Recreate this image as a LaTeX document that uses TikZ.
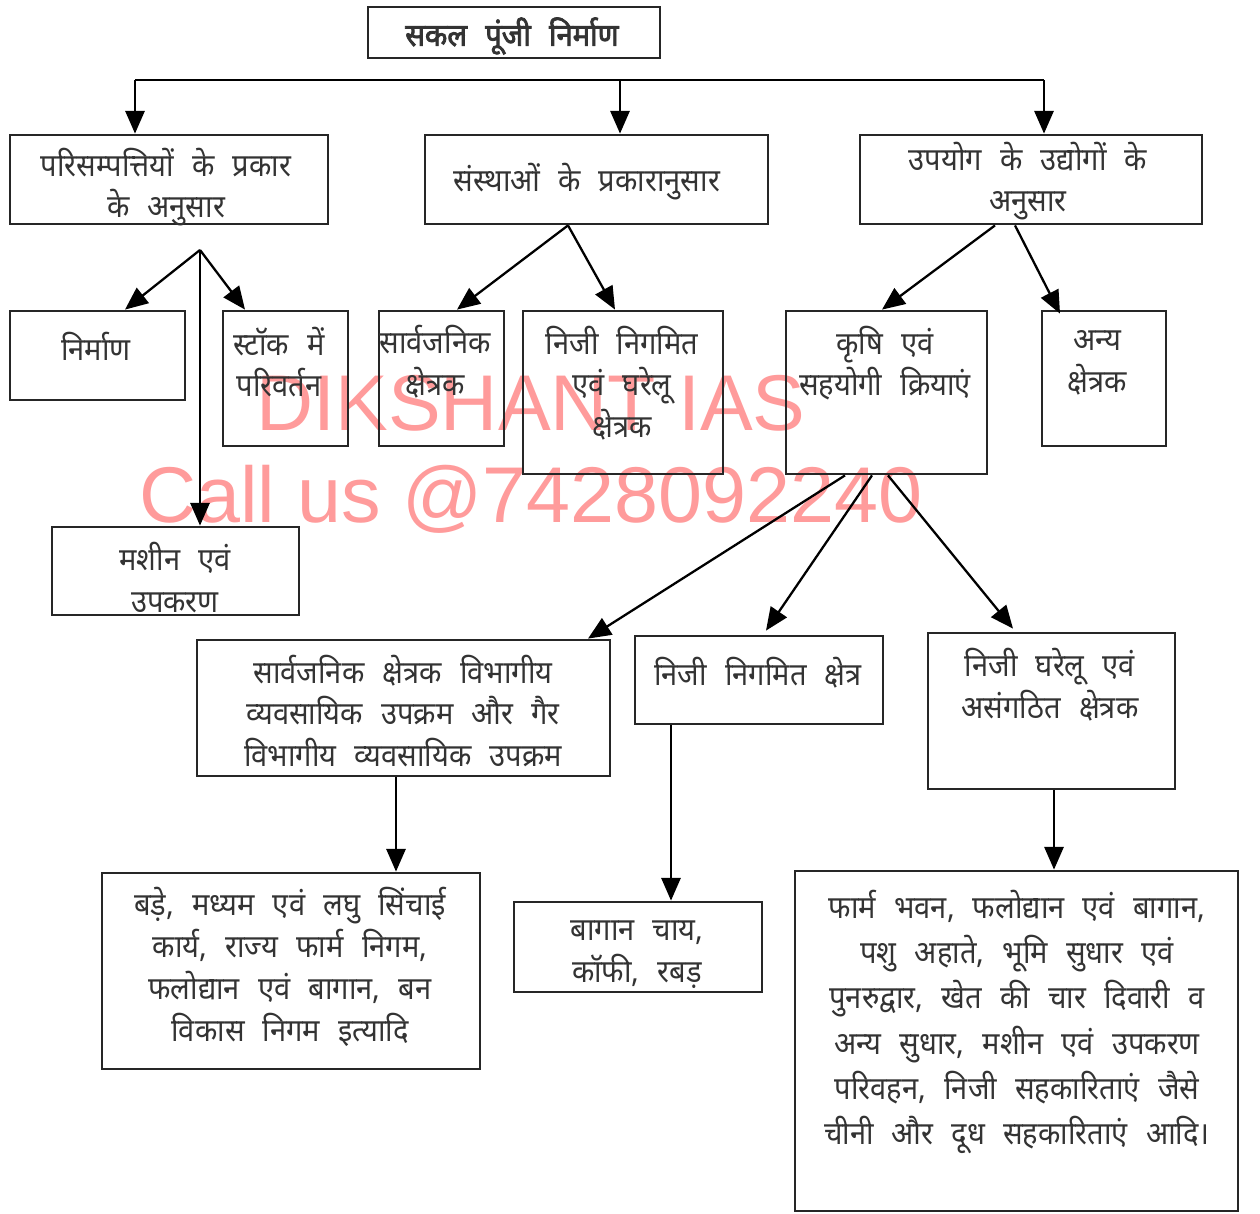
\documentclass[tikz,border=0pt]{standalone}
\usepackage{fontspec}
\usepackage{tikz}
\usetikzlibrary{arrows.meta,calc}
\newfontfamily\hin[Script=Devanagari,WordSpace=2.4,FakeStretch=0.92]{Noto Sans}
\newfontfamily\hinb[Script=Devanagari,WordSpace=2.4,FakeStretch=0.92,FakeBold=2.5]{Noto Sans}
\newfontfamily\wmfont{Liberation Sans}
\definecolor{wmpink}{RGB}{255,155,155}

\begin{document}
\begin{tikzpicture}[
        x=0.02cm, y=-0.02cm,
        box/.style={draw=black!85, line width=1.6pt, inner sep=0pt},
        wh/.style 2 args={minimum width=#1*0.02cm, minimum height=#2*0.02cm},
        txt/.style={font=\hin\fontsize{18}{23.8}\selectfont, align=center, text=black!80, inner sep=0pt},
        arr/.style={line width=1.3pt, -{Triangle[length=13pt,width=11pt]}},
        wm/.style={font=\wmfont\fontsize{45}{45}\selectfont, text=wmpink, anchor=base}
      ]
      \useasboundingbox (0,0) rectangle (1260,1213);
      % watermark
      \node[wm] (wm1) at (531,430) {DIKSHANT IAS};
      \node[wm] (wm2) at (531,522) {Call us @7428092240};

      % Root box
      \node[box, wh={292}{51}] (top) at (514,32.5) {};
      \node[txt, font=\hinb\fontsize{18}{24}\selectfont] (ttop) at (512,36) {सकल पूंजी निर्माण};

      % Level 1
      \node[box, wh={318}{89}] (A) at (169,179.5) {};
      \node[txt] (tA) at (166,187) {परिसम्पत्तियों के प्रकार\\के अनुसार};
      \node[box, wh={343}{89}] (B) at (596.5,179.5) {};
      \node[txt] (tB) at (587,182) {संस्थाओं के प्रकारानुसार};
      \node[box, wh={342}{89}] (C) at (1031,179.5) {};
      \node[txt] (tC) at (1028,181) {उपयोग के उद्योगों के\\अनुसार};

      % Level 2
      \node[box, wh={175}{89}] (nirman) at (97.5,355.5) {};
      \node[txt] (tnirman) at (96,346) {निर्माण};
      \node[box, wh={125}{135}] (stock) at (285.5,378.5) {};
      \node[txt] (tstock) at (279,362) {स्टॉक में\\परिवर्तन};
      \node[box, wh={247}{88}] (machine) at (175.5,571) {};
      \node[txt] (tmachine) at (175,577.5) {मशीन एवं\\उपकरण};
      \node[box, wh={125}{135}] (sarv) at (441.5,378.5) {};
      \node[txt] (tsarv) at (435,362) {सार्वजनिक\\क्षेत्रक};
      \node[box, wh={200}{163}] (nijine) at (623,392.5) {};
      \node[txt] (tnijine) at (622,383) {निजी निगमित\\एवं घरेलू\\क्षेत्रक};
      \node[box, wh={201}{163}] (krishi) at (886.5,392.5) {};
      \node[txt] (tkrishi) at (885,363) {कृषि एवं\\सहयोगी क्रियाएं};
      \node[box, wh={124}{135}] (anya) at (1104,378.5) {};
      \node[txt] (tanya) at (1097,363) {अन्य\\क्षेत्रक};

      % Level 3
      \node[box, wh={413}{136}] (P) at (403.5,708) {};
      \node[txt] (tP) at (403,711) {सार्वजनिक क्षेत्रक विभागीय\\व्यवसायिक उपक्रम और गैर\\विभागीय व्यवसायिक उपक्रम};
      \node[box, wh={248}{88}] (Q) at (759,680) {};
      \node[txt] (tQ) at (758,673) {निजी निगमित क्षेत्र};
      \node[box, wh={247}{156}] (R) at (1051.5,711) {};
      \node[txt] (tR) at (1050,685) {निजी घरेलू एवं\\असंगठित क्षेत्रक};

      % Level 4
      \node[box, wh={378}{196}] (S) at (291,971) {};
      \node[txt] (tS) at (290,967) {बड़े, मध्यम एवं लघु सिंचाई\\कार्य, राज्य फार्म निगम,\\फलोद्यान एवं बागान, बन\\विकास निगम इत्यादि};
      \node[box, wh={248}{90}] (T) at (638,947) {};
      \node[txt] (tT) at (637,955) {बागान चाय,\\कॉफी, रबड़};
      \node[box, wh={443}{340}] (U) at (1016.5,1041) {};
      \node[txt, font=\hin\fontsize{18}{25.8}\selectfont] (tU) at (1017,1022) {फार्म भवन, फलोद्यान एवं बागान,\\पशु अहाते, भूमि सुधार एवं\\पुनरुद्वार, खेत की चार दिवारी व\\अन्य सुधार, मशीन एवं उपकरण\\परिवहन, निजी सहकारिताएं जैसे\\चीनी और दूध सहकारिताएं आदि।};

      % branch under root
      \coordinate (hl) at (135,80);
      \coordinate (hm) at (620,80);
      \coordinate (hr) at (1044,80);
      \draw[line width=1.3pt] (hl) -- (hr);
      \draw[arr] (hl) -- (hl |- A.north);
      \draw[arr] (hm) -- (hm |- B.north);
      \draw[arr] (hr) -- (hr |- C.north);

      % from A
      \coordinate (ap) at (200,250);
      \draw[arr] (ap) -- ($(nirman.north)+(27.5,0)$);
      \draw[arr] (ap) -- ($(stock.north)+(-40.5,0)$);
      \draw[arr] (ap) -- (ap |- machine.north);

      % from B
      \coordinate (bs) at ($(B.south)+(-28.5,0)$);
      \draw[arr] (bs) -- ($(sarv.north)+(15.5,0)$);
      \draw[arr] (bs) -- ($(nijine.north)+(-8,0)$);

      % from C
      \draw[arr] ($(C.south)+(-36,0)$) -- ($(krishi.north)+(-4.5,0)$);
      \draw[arr] ($(C.south)+(-16,0)$) -- ($(anya.north)+(-44,4)$);

      % from krishi
      \draw[arr] ($(krishi.south)+(-41.5,0)$) -- ($(P.north)+(184.5,0)$);
      \draw[arr] ($(krishi.south)+(-14.5,0)$) -- ($(Q.north)+(7,-4)$);
      \draw[arr] ($(krishi.south)+(1.5,0)$) -- ($(R.north)+(-38.5,-3)$);

      % down to level 4
      \coordinate (ps) at ($(P.south)+(-7.5,0)$);
      \draw[arr] (ps) -- (ps |- S.north);
      \coordinate (qs) at ($(Q.south)+(-88,0)$);
      \draw[arr] (qs) -- (qs |- T.north);
      \coordinate (rs) at ($(R.south)+(2.5,0)$);
      \draw[arr] (rs) -- (rs |- U.north);

    \end{tikzpicture}
\end{document}
